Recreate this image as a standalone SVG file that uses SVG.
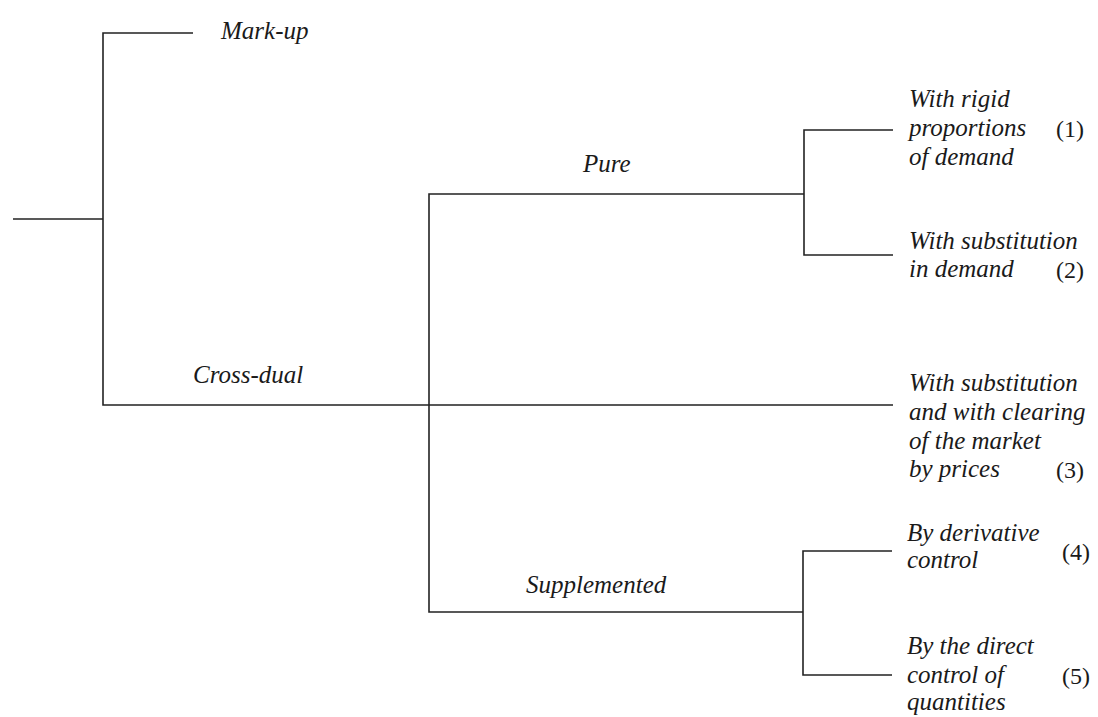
<svg xmlns="http://www.w3.org/2000/svg" width="1098" height="717" viewBox="0 0 1098 717">
<style>
.t{font-family:"Liberation Serif","DejaVu Serif",serif;font-style:italic;font-size:25px;fill:#1a1a1a}
.n{font-family:"Liberation Serif","DejaVu Serif",serif;font-size:24px;fill:#1a1a1a}
.c{fill:none;stroke:#222;stroke-width:1.6}
</style>
<rect width="1098" height="717" fill="#fff"/>
<g id="connectors">
<path class="c" d="M13,219 H103"/>
<path class="c" d="M193,33 H103 V405 H893"/>
<path class="c" d="M429,405 V194 H804"/>
<path class="c" d="M893,130 H804 V255 H893"/>
<path class="c" d="M429,405 V612 H803"/>
<path class="c" d="M892,551 H803 V675 H892"/>
</g>
<g id="markup"><text class="t" x="221" y="39">Mark-up</text></g>
<g id="crossdual"><text class="t" x="193" y="383">Cross-dual</text></g>
<g id="pure"><text class="t" x="583" y="172">Pure</text></g>
<g id="supplemented"><text class="t" x="526" y="593">Supplemented</text></g>
<g id="leaf1">
<text class="t" x="909" y="107">With rigid</text>
<text class="t" x="909" y="136">proportions</text>
<text class="t" x="909" y="165">of demand</text>
<text class="n" x="1056" y="137">(1)</text>
</g>
<g id="leaf2">
<text class="t" x="909" y="249">With substitution</text>
<text class="t" x="909" y="277">in demand</text>
<text class="n" x="1056" y="278">(2)</text>
</g>
<g id="leaf3">
<text class="t" x="909" y="391">With substitution</text>
<text class="t" x="909" y="420">and with clearing</text>
<text class="t" x="909" y="449">of the market</text>
<text class="t" x="909" y="477">by prices</text>
<text class="n" x="1056" y="478">(3)</text>
</g>
<g id="leaf4">
<text class="t" x="907" y="541">By derivative</text>
<text class="t" x="907" y="568">control</text>
<text class="n" x="1062" y="560">(4)</text>
</g>
<g id="leaf5">
<text class="t" x="907" y="654">By the direct</text>
<text class="t" x="907" y="683">control of</text>
<text class="t" x="907" y="710">quantities</text>
<text class="n" x="1062" y="684">(5)</text>
</g>
</svg>
